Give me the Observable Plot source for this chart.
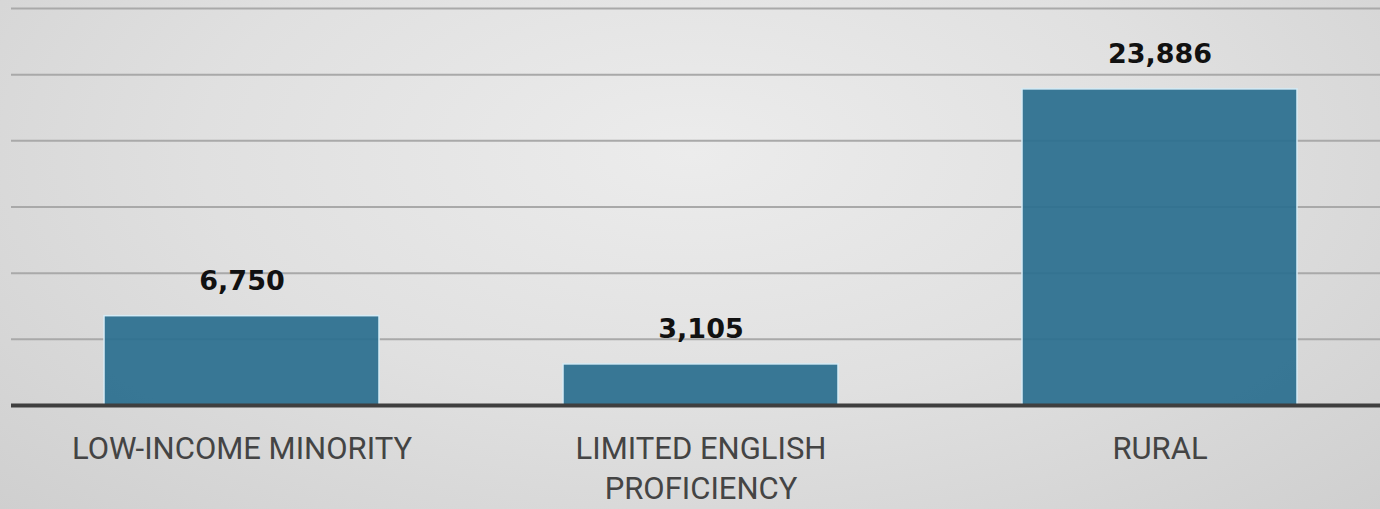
<!DOCTYPE html>
<html>
<head>
<meta charset="utf-8">
<script src="https://cdn.jsdelivr.net/npm/d3@7"></script>
<script src="https://cdn.jsdelivr.net/npm/@observablehq/plot@0.6"></script>
<style>
  html, body { margin: 0; padding: 0; }
  body { width: 1380px; height: 509px; overflow: hidden;
    background: radial-gradient(ellipse at 50% 30%, #ececec 0%, #e0e0e0 50%, #cfcfcf 100%); }
  #chart svg { display: block; overflow: visible; }
</style>
</head>
<body>
<div id="chart"></div>
<script>
const categories = ["LOW-INCOME MINORITY", "LIMITED ENGLISH PROFICIENCY", "RURAL"];
const values = [6750, 3105, 23886];
const tickLabels = ["LOW-INCOME MINORITY", "LIMITED ENGLISH\nPROFICIENCY", "RURAL"];
const gridTicks = [5000, 10000, 15000, 20000, 25000, 30000];

const data = categories.map((c, i) => ({category: c, value: values[i], label: tickLabels[i]}));

const chart = Plot.plot({
  width: 1380,
  height: 509,
  marginLeft: 11,
  marginRight: -10,
  marginTop: 8,
  marginBottom: 104,
  style: {background: "transparent", overflow: "visible"},
  x: {domain: categories, paddingInner: 0.4, paddingOuter: 0.2, axis: null},
  y: {domain: [0, 30000], axis: null},
  marks: [
    Plot.ruleY(gridTicks, {stroke: "#a9a9a9", strokeWidth: 2}),
    Plot.barY(data, {x: "category", y: "value", fill: "#2b6f8f", fillOpacity: 0.93, stroke: "#d6ecf6", strokeWidth: 1.5}),
    Plot.ruleY([0], {stroke: "#3f3f3f", strokeWidth: 4}),
    Plot.text(data, {x: "category", y: "value", text: d => d3.format(",")(d.value), dy: -35,
      fontSize: 27, fontWeight: "bold", fill: "#111", fontFamily: "DejaVu Sans, sans-serif"}),
    Plot.text(data, {x: "category", y: () => 0, text: "label", lineAnchor: "top", dy: 25,
      lineHeight: 1.3, fontSize: 31, fill: "#444", fontFamily: "Roboto, sans-serif"})
  ]
});
document.getElementById("chart").append(chart);
</script>
</body>
</html>
